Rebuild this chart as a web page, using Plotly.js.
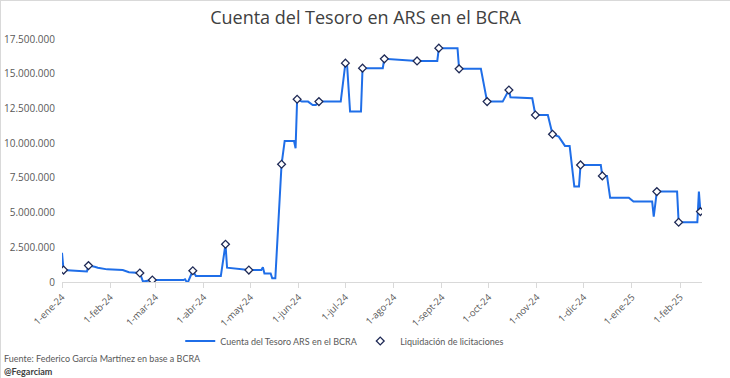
<!DOCTYPE html>
<html>
<head>
<meta charset="utf-8">
<script src="https://cdn.plot.ly/plotly-3.0.1.min.js"></script>
<style>
html,body{margin:0;padding:0;background:#fff;}
#chart{width:730px;height:378px;box-sizing:border-box;border-left:1px solid #d9d9d9;border-top:1px solid #d9d9d9;}
</style>
</head>
<body>
<div id="chart"></div>
<script>
const lineDates = ['2024-01-01','2024-01-02','2024-01-17','2024-01-18','2024-01-22','2024-01-24','2024-01-30','2024-02-09','2024-02-13','2024-02-19','2024-02-20','2024-02-22','2024-02-28','2024-03-19','2024-03-20','2024-03-21','2024-03-22','2024-03-25','2024-03-27','2024-04-12','2024-04-15','2024-04-16','2024-04-30','2024-05-08','2024-05-09','2024-05-10','2024-05-14','2024-05-15','2024-05-17','2024-05-21','2024-05-23','2024-05-29','2024-05-30','2024-05-31','2024-06-03','2024-06-07','2024-06-10','2024-06-12','2024-06-14','2024-06-28','2024-07-01','2024-07-02','2024-07-04','2024-07-11','2024-07-12','2024-07-25','2024-07-26','2024-08-16','2024-08-29','2024-08-30','2024-09-11','2024-09-12','2024-09-26','2024-09-30','2024-10-10','2024-10-14','2024-10-15','2024-10-29','2024-10-31','2024-11-08','2024-11-11','2024-11-15','2024-11-19','2024-11-22','2024-11-25','2024-11-28','2024-11-29','2024-12-12','2024-12-13','2024-12-16','2024-12-18','2024-12-30','2025-01-02','2025-01-14','2025-01-15','2025-01-17','2025-01-30','2025-01-31','2025-02-12','2025-02-13','2025-02-14'];
const lineValues = [2100000,860000,760000,1180000,1100000,1030000,910000,860000,700000,630000,650000,30000,140000,140000,200000,20000,20000,810000,430000,430000,2720000,1030000,860000,860000,1060000,620000,620000,270000,270000,8480000,10160000,10160000,9630000,13160000,12990000,12990000,12750000,12750000,12990000,12990000,15760000,15760000,12270000,12270000,15400000,15400000,16070000,15920000,15920000,16840000,16840000,15350000,15350000,12990000,12990000,13830000,13300000,13230000,12030000,12030000,10640000,10470000,9800000,9800000,6870000,6870000,8430000,8430000,7640000,7640000,6070000,6070000,5790000,5790000,4700000,6510000,6510000,4300000,4300000,6510000,5070000];

const markerDates = ['2024-01-02','2024-01-18','2024-02-20','2024-02-28','2024-03-25','2024-04-15','2024-04-30','2024-05-21','2024-05-31','2024-06-14','2024-07-01','2024-07-12','2024-07-26','2024-08-16','2024-08-30','2024-09-12','2024-09-30','2024-10-14','2024-10-31','2024-11-11','2024-11-29','2024-12-13','2025-01-17','2025-01-31','2025-02-14'];
const markerValues = [860000,1180000,650000,140000,810000,2720000,860000,8480000,13160000,12990000,15760000,15400000,16070000,15920000,16840000,15350000,12990000,13830000,12030000,10640000,8430000,7640000,6510000,4300000,5070000];

const tickDates = ['2024-01-01','2024-02-01','2024-03-01','2024-04-01','2024-05-01','2024-06-01','2024-07-01','2024-08-01','2024-09-01','2024-10-01','2024-11-01','2024-12-01','2025-01-01','2025-02-01'];
const tickLabels = ['1-ene-24','1-feb-24','1-mar-24','1-abr-24','1-may-24','1-jun-24','1-jul-24','1-ago-24','1-sept-24','1-oct-24','1-nov-24','1-dic-24','1-ene-25','1-feb-25'];

const FONT = 'Open Sans, Noto Sans, sans-serif';
const FONT2 = 'Lato, Open Sans, sans-serif';
const traces = [
  {
    type:'scatter', mode:'lines', name:'Cuenta del Tesoro ARS en el BCRA',
    x: lineDates, y: lineValues,
    line:{color:'#1f6ee8', width:2},
    hoverinfo:'skip'
  },
  {
    type:'scatter', mode:'markers', name:'Liquidación de licitaciones',
    x: markerDates, y: markerValues,
    marker:{symbol:'diamond', size:6, color:'#ffffff', line:{color:'#1f2a56', width:1.3}},
    hoverinfo:'skip'
  }
];

const layout = {
  width:729, height:377,
  margin:{l:61, r:28, t:38, b:96, pad:0},
  paper_bgcolor:'#ffffff', plot_bgcolor:'#ffffff',
  separators:',.',
  font:{family:FONT, color:'#595959', size:10},
  title:{text:'Cuenta del Tesoro en ARS en el BCRA', x:0.5, xanchor:'center', y:0.955, yanchor:'middle',
         font:{family:FONT, size:18, color:'#404040'}},
  showlegend:true,
  legend:{orientation:'h', x:0.466, xanchor:'center', y:-0.243, yanchor:'middle', itemwidth:30,
          entrywidth:135, entrywidthmode:'pixels',
          font:{family:FONT2, size:9, color:'#595959'}, bgcolor:'rgba(0,0,0,0)'},
  xaxis:{
    type:'date', range:['2024-01-01','2025-02-15'],
    tickmode:'array', tickvals: tickDates, ticktext: tickLabels,
    tickangle:-45, tickfont:{family:FONT, size:9.5, color:'#595959'},
    showline:true, linecolor:'#d9d9d9', linewidth:1,
    ticks:'outside', ticklen:5, tickcolor:'#d9d9d9', tickwidth:1,
    showgrid:false, zeroline:false, fixedrange:true
  },
  yaxis:{
    range:[0,17500000], dtick:2500000, tick0:0, tickformat:',d',
    tickfont:{family:FONT, size:10, color:'#595959'},
    showgrid:false, zeroline:false, showline:false, ticks:'', ticklabelstandoff:6, fixedrange:true
  },
  annotations:[
    {text:'Fuente: Federico García Martínez en base a BCRA', xref:'paper', yref:'paper',
     x:-0.094, y:-0.316, xanchor:'left', yanchor:'middle', showarrow:false,
     font:{family:FONT2, size:9, color:'#595959'}},
    {text:'<b>@Fegarciam</b>', xref:'paper', yref:'paper',
     x:-0.094, y:-0.367, xanchor:'left', yanchor:'middle', showarrow:false,
     font:{family:FONT2, size:9, color:'#404040'}}
  ]
};

Plotly.newPlot('chart', traces, layout, {displayModeBar:false, staticPlot:true});
</script>
</body>
</html>
